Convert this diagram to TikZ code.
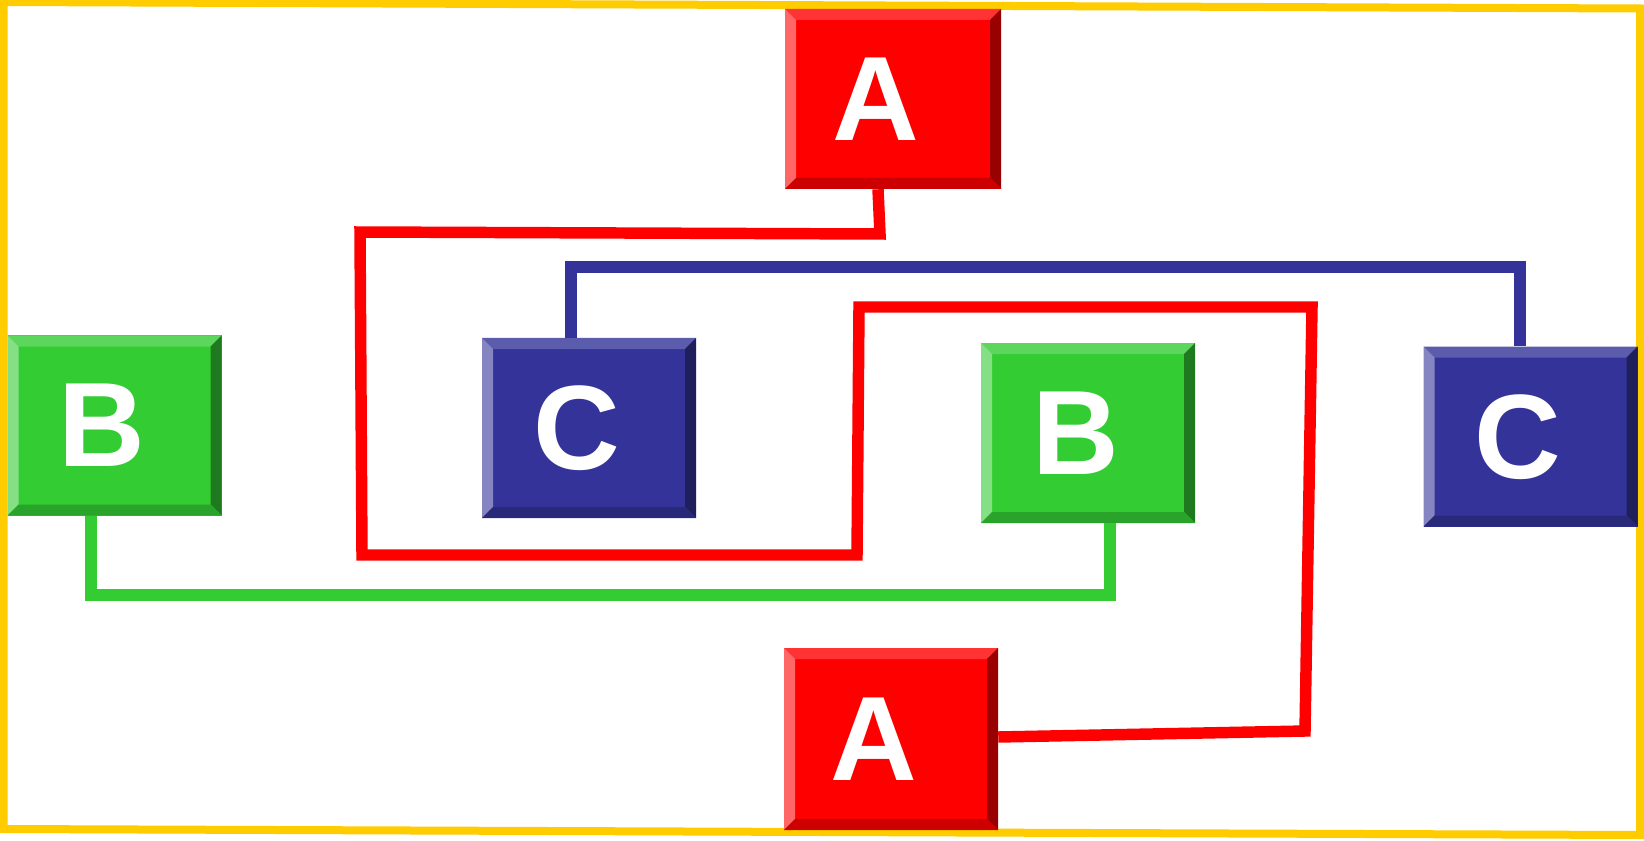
\documentclass[tikz,border=0pt]{standalone}
\usepackage{fontspec}
\setmainfont{Liberation Sans}
\definecolor{rmain}{HTML}{FF0000}
\definecolor{rtop}{HTML}{FF3333}
\definecolor{rleft}{HTML}{FF6666}
\definecolor{rright}{HTML}{990000}
\definecolor{rbot}{HTML}{CC0000}
\definecolor{gmain}{HTML}{33CC33}
\definecolor{gtop}{HTML}{5CD65C}
\definecolor{gleft}{HTML}{85E085}
\definecolor{gright}{HTML}{1F7A1F}
\definecolor{gbot}{HTML}{29A329}
\definecolor{bmain}{HTML}{333399}
\definecolor{btop}{HTML}{5C5CAD}
\definecolor{bleft}{HTML}{8585C2}
\definecolor{bright}{HTML}{1F1F5C}
\definecolor{bbot}{HTML}{29297A}
\definecolor{frame}{HTML}{FFCC00}
\def\bv{8.25pt}
\tikzset{
  bevel/.style n args={4}{path picture={
    \fill[#1] (path picture bounding box.north west) -- (path picture bounding box.north east)
      -- ([xshift=-\bv,yshift=-\bv]path picture bounding box.north east)
      -- ([xshift=\bv,yshift=-\bv]path picture bounding box.north west) -- cycle;
    \fill[#2] (path picture bounding box.north west)
      -- ([xshift=\bv,yshift=-\bv]path picture bounding box.north west)
      -- ([xshift=\bv,yshift=\bv]path picture bounding box.south west)
      -- (path picture bounding box.south west) -- cycle;
    \fill[#3] (path picture bounding box.north east) -- (path picture bounding box.south east)
      -- ([xshift=-\bv,yshift=\bv]path picture bounding box.south east)
      -- ([xshift=-\bv,yshift=-\bv]path picture bounding box.north east) -- cycle;
    \fill[#4] (path picture bounding box.south west) -- (path picture bounding box.south east)
      -- ([xshift=-\bv,yshift=\bv]path picture bounding box.south east)
      -- ([xshift=\bv,yshift=\bv]path picture bounding box.south west) -- cycle;
  }},
  bbox/.style={rectangle, inner sep=0pt, minimum width=160.5pt, minimum height=135pt,
    text=white, font=\fontsize{90}{90}\bfseries\selectfont, text depth=0pt},
  redbox/.style={bbox, fill=rmain, bevel={rtop}{rleft}{rright}{rbot}},
  greenbox/.style={bbox, fill=gmain, bevel={gtop}{gleft}{gright}{gbot}},
  bluebox/.style={bbox, fill=bmain, bevel={btop}{bleft}{bright}{bbot}},
  conn/.style={line width=8.6pt, line join=miter},
  redline/.style={conn, draw=rmain},
  greenline/.style={conn, draw=gmain},
  blueline/.style={conn, draw=bmain},
  border/.style={draw=frame, line width=6pt, line join=miter}
}
\begin{document}
\begin{tikzpicture}[x=0.75pt,y=-0.75pt]
\useasboundingbox (0,0) rectangle (1644,841);
\fill[white] (0,0) rectangle (1644,841);
\draw[border] (3.5,2) -- (1640,8.5) -- (1640,835) -- (3.5,829) -- cycle;

\node[redbox, minimum width=162pt] (A1) at (893,99) {A\kern26pt};
\node[greenbox] (B1) at (114.5,425.5) {B\kern19pt};
\node[bluebox] (C1) at (589,428) {C\kern18.5pt};
\node[greenbox] (B2) at (1088,433) {B\kern19pt};
\node[bluebox] (C2) at (1530.5,436.5) {C\kern18.5pt};
\node[redbox, minimum height=136.5pt] (A2) at (891,739) {A\kern26pt};

\draw[redline] ([xshift=-11.25pt]A1.south) -- (880,234) -- (360,232) -- (362,555)
  -- (857,555) -- (859,307) -- (1312,307) -- (1305,731) -- ([yshift=1.5pt]A2.east);
\draw[blueline] ([xshift=-13.5pt]C1.north) -- (571,267) -- (1520,267)
  -- ([xshift=-7.875pt]C2.north);
\draw[greenline] ([xshift=-17.625pt]B1.south) -- (91,595) -- (1110,595)
  -- ([xshift=16.5pt]B2.south);
\end{tikzpicture}
\end{document}
